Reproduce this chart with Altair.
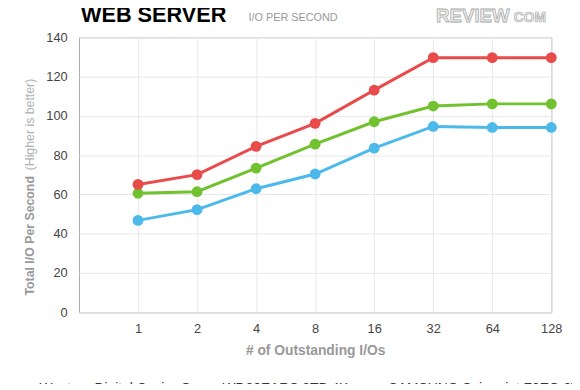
import altair as alt
import pandas as pd

# ---- data ----
outstanding = [1, 2, 4, 8, 16, 32, 64, 128]
series_names = [
    "Western Digital Caviar Green WD20EARS 2TB 4K",
    "SAMSUNG Spinpoint F3EG 2TB HDD",
    "Seagate Barracuda LP 2TB HDD",
]
wd_values = [46.8, 52.3, 62.9, 70.4, 83.6, 94.6, 94.1, 94.1]
samsung_values = [60.6, 61.4, 73.4, 85.6, 97.0, 105.0, 106.1, 106.1]
third_values = [65.1, 70.1, 84.5, 96.2, 113.1, 129.6, 129.6, 129.6]
series_colors = ["#4bb9ea", "#72c12f", "#e94b4b"]
y_ticks = [0, 20, 40, 60, 80, 100, 120, 140]

rows = []
for name, vals in zip(series_names, [wd_values, samsung_values, third_values]):
    for x, v in zip(outstanding, vals):
        rows.append({"qd": x, "iops": v, "drive": name})
df = pd.DataFrame(rows)

FONT = "Liberation Sans"

color = alt.Color(
    "drive:N",
    scale=alt.Scale(domain=series_names, range=series_colors),
    sort=series_names,
    legend=alt.Legend(
        title=None,
        orient="none",
        legendX=-63,
        legendY=350,
        direction="horizontal",
        columns=2,
        columnPadding=17,
        symbolType="circle",
        symbolSize=110,
        symbolStrokeWidth=0,
        labelFontSize=14,
        labelFont=FONT,
        labelColor="#333333",
        labelLimit=400,
        labelOffset=9,
        padding=0,
    ),
)

x_enc = alt.X(
    "qd:Q",
    scale=alt.Scale(type="log", base=2, domain=[0.5, 128], nice=False),
    axis=alt.Axis(
        values=outstanding,
        format="d",
        title=None,
        domain=False,
        ticks=False,
        labelFontSize=13,
        labelFont=FONT,
        labelColor="#444444",
        labelPadding=10,
        gridColor="#e8e8e8",
        labelFlush=False,
        labelOverlap=False,
    ),
)
y_enc = alt.Y(
    "iops:Q",
    scale=alt.Scale(domain=[0, 140], nice=False, zero=True),
    axis=alt.Axis(
        values=y_ticks,
        tickCount=8,
        title=None,
        domain=False,
        ticks=False,
        labelFontSize=13,
        labelFont=FONT,
        labelColor="#444444",
        labelPadding=12,
        gridColor="#e8e8e8",
        labelOverlap=False,
        labelFlush=False,
    ),
)

lines = alt.Chart(df).mark_line(strokeWidth=3).encode(x=x_enc, y=y_enc, color=color)
points = alt.Chart(df).mark_circle(size=120, opacity=1).encode(
    x=x_enc, y=y_enc, color=color
)


def label(text, x, y, **kw):
    d = pd.DataFrame({"t": [text]})
    return alt.Chart(d).mark_text(font=FONT, **kw).encode(
        text="t:N", x=alt.value(x), y=alt.value(y)
    )


title = label("WEB SERVER", 2, -15, fontSize=22, fontWeight="bold", color="#000000",
              align="left", baseline="alphabetic")
subtitle = label("I/O PER SECOND", 172, -16, fontSize=11, color="#999999",
                 align="left", baseline="alphabetic")
logo1 = label("REVIEW", 362, -15, fontSize=19, fontWeight="bold", color="#eeeeee",
              stroke="#aaaaaa", strokeWidth=0.8, align="left", baseline="alphabetic")
logo2 = label("COM", 441, -15, fontSize=14, fontWeight="bold", color="#eeeeee",
              stroke="#aaaaaa", strokeWidth=0.7, align="left", baseline="alphabetic")
ytitle1 = label("Total I/O Per Second", -50, 262, fontSize=12.5, fontWeight="bold",
                color="#999999", angle=270, align="left", baseline="middle")
ytitle2 = label("(Higher is better)", -50, 135, fontSize=12.5, color="#b0b0b0",
                angle=270, align="left", baseline="middle")
xtitle = label("# of Outstanding I/Os", 240, 318, fontSize=14, fontWeight="bold",
               color="#999999", align="center", baseline="middle")

chart = alt.layer(
    lines, points, title, subtitle, logo1, logo2, ytitle1, ytitle2, xtitle
).properties(
    width=479,
    height=279,
    autosize=alt.AutoSizeParams(type="none"),
    padding={"left": 72, "top": 27, "right": 21, "bottom": 70},
    background="white",
).configure_view(stroke="#aaaaaa", strokeWidth=1)

chart.save("out.html", embed_options={"renderer": "svg", "actions": False})
